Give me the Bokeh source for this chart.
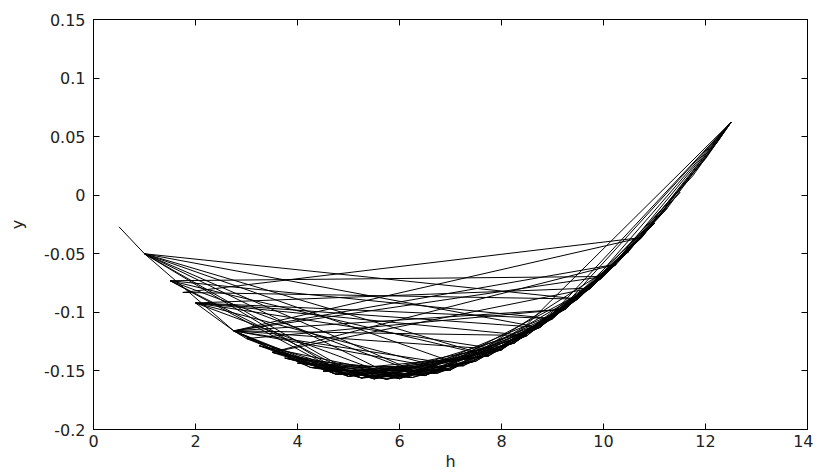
from bokeh.plotting import figure
from bokeh.models import Range1d, LinearAxis, FixedTicker, CustomJSTickFormatter, ColumnDataSource
from bokeh.embed import file_html
from bokeh.resources import INLINE

# points on the curve (h, y)
node_h = [0.5, 0.75, 1.0, 1.25, 1.5, 1.75, 2.0, 2.25, 2.5, 2.75, 3.0, 3.25, 3.5, 3.75,
          4.0, 4.25, 4.5, 4.75, 5.0, 5.25, 5.5, 5.75, 6.0, 6.25, 6.5, 6.75, 7.0, 7.25,
          7.5, 7.75, 8.0, 8.25, 8.5, 8.75, 9.0, 9.25, 9.5, 9.75, 10.0, 10.25, 10.5,
          10.75, 11.0, 11.25, 11.5, 11.75, 12.0, 12.25, 12.5]
node_y = [-0.027, -0.039, -0.050, -0.062, -0.073, -0.083, -0.092, -0.1006, -0.1085,
          -0.1158, -0.1224, -0.1285, -0.1341, -0.1390, -0.1433, -0.1470, -0.1502,
          -0.1527, -0.1547, -0.1560, -0.1568, -0.1570, -0.1566, -0.1556, -0.1540,
          -0.1518, -0.1490, -0.1456, -0.1416, -0.1371, -0.1319, -0.1262, -0.1198,
          -0.1129, -0.1054, -0.0973, -0.0886, -0.0793, -0.0694, -0.0589, -0.0478,
          -0.0361, -0.0239, -0.0110, 0.0025, 0.0165, 0.0311, 0.0464, 0.0622]

# order in which the points are visited
visit_h = [0.5, 1.0, 9.5, 1.75, 10.75, 2.75, 10.25, 3.5, 9.75, 2.0, 8.75, 1.0,
           7.75, 1.5, 10.0, 2.75, 7.25, 1.0, 6.5, 1.5, 9.0, 2.0, 8.0, 2.75, 7.0,
           2.0, 6.0, 1.0, 5.25, 1.5, 5.0, 1.0, 2.75, 8.5, 2.0, 2.75, 9.25, 3.0,
           2.75, 4.75, 3.0, 5.5, 3.25, 6.25, 3.5, 5.75, 3.75, 6.75, 4.0, 6.5, 4.25,
           7.25, 4.5, 7.0, 4.75, 7.75, 5.0, 8.0, 5.25, 7.5, 5.5, 8.5, 5.75, 8.25,
           6.0, 9.0, 6.5, 8.75, 7.0, 9.25, 7.5, 9.5, 8.0, 10.0, 8.5, 10.25, 9.0,
           10.75, 9.5, 11.0, 10.0, 11.5,
           9.75, 11.0, 9.25, 10.5, 8.75, 10.0, 8.25, 9.75, 7.75, 9.0, 7.25, 8.5,
           6.75, 8.0, 6.25, 7.5, 5.75, 7.0, 5.25, 6.75, 4.75, 6.25, 4.25, 5.75,
           3.75, 5.25, 3.25, 4.75, 2.75, 4.25,
           2.75, 5.0, 3.5, 6.0, 4.0, 7.0, 4.5, 7.75, 5.0, 8.25, 5.5, 8.75, 6.0,
           9.25, 6.5, 9.75, 7.0, 10.25,
           8.25, 10.0, 8.75, 10.5, 9.25, 11.0, 9.75, 11.25, 10.25,
           8.0, 12.5, 9.0, 11.25, 12.5, 8.75, 10.5, 12.5, 9.5, 11.75, 12.5, 10.0,
           12.0, 12.5, 10.75, 12.25, 12.5]

x_ticks = [0, 2, 4, 6, 8, 10, 12, 14]
y_ticks = [-0.2, -0.15, -0.1, -0.05, 0, 0.05, 0.1, 0.15]

lookup = dict(zip(node_h, node_y))
src = ColumnDataSource(dict(h=visit_h, y=[lookup[v] for v in visit_h]))

FONT = "DejaVu Sans"
p = figure(width=813, height=474, output_backend="svg", toolbar_location=None,
           x_range=Range1d(0, 14), y_range=Range1d(-0.2, 0.15),
           min_border_left=93, min_border_right=6, min_border_top=19, min_border_bottom=45)
p.grid.visible = False
p.outline_line_color = "black"
p.outline_line_width = 1
p.background_fill_color = "white"
p.border_fill_color = "white"

p.line("h", "y", source=src, line_color="black", line_width=1)

fmt_y = CustomJSTickFormatter(code="return Number(tick.toFixed(2)).toString();")

def style(ax, labels=True):
    ax.major_tick_in = 6
    ax.major_tick_out = 0
    ax.minor_tick_line_color = None
    ax.axis_line_color = "black"
    ax.major_tick_line_color = "black"
    if labels:
        ax.major_label_text_font = FONT
        ax.major_label_text_font_size = "16px"
        ax.major_label_text_color = "#222222"
        ax.axis_label_text_font = FONT
        ax.axis_label_text_font_size = "16px"
        ax.axis_label_text_font_style = "normal"
        ax.axis_label_text_color = "#222222"
    else:
        ax.major_label_text_font_size = "0px"
        ax.major_label_standoff = 0

xa = p.xaxis[0]
xa.ticker = FixedTicker(ticks=x_ticks)
xa.axis_label = "h"
style(xa)
xa.major_label_standoff = 5
xa.axis_label_standoff = 2

ya = p.yaxis[0]
ya.ticker = FixedTicker(ticks=y_ticks)
ya.formatter = fmt_y
ya.axis_label = "y"
style(ya)
ya.major_label_standoff = 8
ya.axis_label_standoff = 14

top = LinearAxis(ticker=FixedTicker(ticks=x_ticks))
style(top, labels=False)
p.add_layout(top, "above")
right = LinearAxis(ticker=FixedTicker(ticks=y_ticks))
style(right, labels=False)
p.add_layout(right, "right")

open("out.html", "w").write(file_html(p, INLINE))
